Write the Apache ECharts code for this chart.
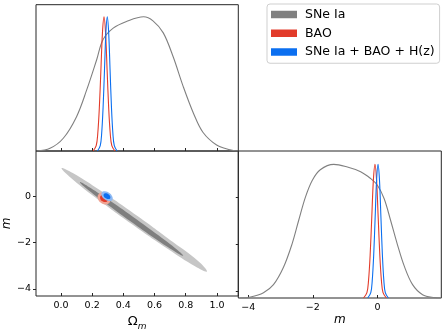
<!DOCTYPE html>
<html><head><meta charset="utf-8">
<script src="https://cdn.jsdelivr.net/npm/echarts@6/dist/echarts.min.js"></script>
<style>html,body{margin:0;padding:0;background:#fff}#c{width:446px;height:332px}</style>
</head><body><div id="c"></div>
<script>
// ---- data ----
const seriesNames = ['SNe Ia', 'BAO', 'SNe Ia + BAO + H(z)'];
const omTicks = [0.0, 0.2, 0.4, 0.6, 0.8, 1.0];
const mTicks = [-4, -2, 0];
// 1D marginals of Omega_m (normalised density)
const snOm = [[-0.156,0],[-0.07,0.02],[0.015,0.095],[0.10,0.256],[0.165,0.455],[0.229,0.68],[0.27,0.83],[0.335,0.915],[0.42,0.965],[0.53,1.0],[0.59,0.97],[0.656,0.88],[0.72,0.70],[0.784,0.48],[0.85,0.28],[0.91,0.14],[0.998,0.045],[1.083,0.01],[1.137,0]];
const baoOm = [[0.206,0],[0.226,0.04],[0.236,0.13],[0.246,0.32],[0.256,0.6],[0.266,0.88],[0.276,1],[0.286,0.88],[0.296,0.6],[0.306,0.32],[0.316,0.13],[0.326,0.04],[0.346,0]];
const allOm = [[0.234,0],[0.252,0.04],[0.261,0.13],[0.27,0.32],[0.279,0.6],[0.288,0.88],[0.297,1],[0.306,0.88],[0.315,0.6],[0.324,0.32],[0.333,0.13],[0.342,0.04],[0.36,0]];
// 1D marginals of m
const snM = [[-4.26,0],[-3.93,0.008],[-3.53,0.04],[-3.22,0.10],[-2.91,0.23],[-2.65,0.40],[-2.44,0.58],[-2.23,0.755],[-2.02,0.88],[-1.77,0.96],[-1.35,1.0],[-0.93,0.98],[-0.52,0.945],[-0.21,0.894],[0,0.844],[0.21,0.743],[0.41,0.58],[0.62,0.40],[0.83,0.24],[1.09,0.10],[1.40,0.025],[1.76,0.003],[1.98,0]];
const baoM = [[-0.43,0],[-0.325,0.04],[-0.275,0.13],[-0.225,0.32],[-0.175,0.6],[-0.125,0.88],[-0.075,1],[-0.025,0.88],[0.025,0.6],[0.075,0.32],[0.125,0.13],[0.175,0.04],[0.28,0]];
const allM = [[-0.3,0],[-0.205,0.04],[-0.16,0.13],[-0.115,0.32],[-0.07,0.6],[-0.025,0.88],[0.02,1],[0.065,0.88],[0.11,0.6],[0.155,0.32],[0.2,0.13],[0.245,0.04],[0.34,0]];
// 2D contours (Omega_m, m) : outer = 95%, inner = 68%
const snOuter = [[0.936,-3.244],[0.862,-3.030],[0.686,-2.269],[0.451,-1.171],[0.221,-0.034],[0.057,0.855],[0.004,1.241],[0.076,1.026],[0.253,0.265],[0.488,-0.829],[0.718,-1.970],[0.881,-2.799]];
const snInner = [[0.784,-2.564],[0.735,-2.397],[0.610,-1.846],[0.443,-1.056],[0.279,-0.244],[0.161,0.367],[0.122,0.628],[0.171,0.453],[0.296,-0.094],[0.463,-0.880],[0.627,-1.688],[0.745,-2.303]];
const baoOuter = [[0.312,-0.256],[0.287,-0.338],[0.256,-0.270],[0.237,-0.094],[0.240,0.094],[0.265,0.175],[0.297,0.107],[0.316,-0.073]];
const baoInner = [[0.298,-0.184],[0.283,-0.234],[0.264,-0.193],[0.252,-0.086],[0.254,0.024],[0.269,0.074],[0.288,0.033],[0.300,-0.074]];
const allOuter = [[0.329,-0.142],[0.308,-0.192],[0.280,-0.118],[0.261,0.038],[0.262,0.182],[0.282,0.232],[0.310,0.158],[0.329,0.003]];
const allInner = [[0.315,-0.077],[0.303,-0.107],[0.286,-0.063],[0.274,0.031],[0.275,0.117],[0.287,0.147],[0.304,0.103],[0.316,0.010]];
const rightPanelTicks = [0.051, 0.403, 0.753];

// ---- styles ----
const FONT = 'DejaVu Sans';
const GRAY = '#808080', RED = '#e23b2a', BLUE = '#0b6ff0';
const AX = '#262626';
const OM_RANGE = [-0.16, 1.137];
const M_RANGE = [-4.31, 1.98];
const minus = v => (v < 0 ? '\u2212' + Math.abs(v) : String(v));
const noLine = { show: false, onZero: false };

function line1D(name, data, color, xi, yi) {
  return { type: 'line', name, data, xAxisIndex: xi, yAxisIndex: yi, smooth: 0.35,
    symbol: 'none', lineStyle: { color, width: 1.1 }, itemStyle: { color }, z: 3, silent: true };
}
function contour(name, pts, color, z) {
  return { type: 'custom', name, xAxisIndex: 1, yAxisIndex: 1, data: pts, z, silent: true,
    itemStyle: { color },
    renderItem: function (params, api) {
      if (params.dataIndex !== 0) return null;
      const p = pts.map(d => api.coord(d));
      return { type: 'polygon', shape: { points: p, smooth: 0.45 }, style: { fill: color, stroke: null } };
    } };
}

const chart = echarts.init(document.getElementById('c'), null, { renderer: 'canvas' });
chart.setOption({
  animation: false,
  backgroundColor: '#fff',
  textStyle: { fontFamily: FONT },
  grid: [
    { left: 36, top: 4.7, width: 202.3, height: 146.3, show: true, borderColor: AX, borderWidth: 1, backgroundColor: 'transparent' },
    { left: 36, top: 151, width: 202.3, height: 147, show: true, borderColor: AX, borderWidth: 1, backgroundColor: 'transparent' },
    { left: 238.3, top: 151, width: 203, height: 147, show: true, borderColor: AX, borderWidth: 1, backgroundColor: 'transparent' }
  ],
  xAxis: [
    { type: 'value', gridIndex: 0, min: OM_RANGE[0], max: OM_RANGE[1], axisLine: noLine,
      axisTick: { show: true, inside: true, length: 3, customValues: omTicks, lineStyle: { color: AX } },
      axisLabel: { show: false }, splitLine: { show: false } },
    { type: 'value', gridIndex: 1, min: OM_RANGE[0], max: OM_RANGE[1], axisLine: noLine,
      axisTick: { show: true, inside: true, length: 3, customValues: omTicks, lineStyle: { color: AX } },
      axisLabel: { show: true, customValues: omTicks, formatter: v => v.toFixed(1), color: '#000', fontSize: 9.5, fontFamily: FONT, margin: 5 },
      splitLine: { show: false },
      name: '{o|\u03A9}{s|m}', nameLocation: 'middle', nameGap: 15,
      nameTextStyle: { rich: { o: { fontSize: 13, fontFamily: FONT, color: '#000', verticalAlign: 'bottom', lineHeight: 17 },
                               s: { fontSize: 9, fontFamily: FONT, fontStyle: 'italic', color: '#000', verticalAlign: 'bottom', lineHeight: 17, padding: [0,0,-3,0] } } } },
    { type: 'value', gridIndex: 2, min: M_RANGE[0], max: M_RANGE[1], axisLine: noLine,
      axisTick: { show: true, inside: true, length: 3, customValues: mTicks, lineStyle: { color: AX } },
      axisLabel: { show: true, customValues: mTicks, formatter: minus, color: '#000', fontSize: 9.5, fontFamily: FONT, margin: 5 },
      splitLine: { show: false },
      name: 'm', nameLocation: 'middle', nameGap: 15,
      nameTextStyle: { fontSize: 12, fontStyle: 'italic', fontFamily: FONT, color: '#000' } }
  ],
  yAxis: [
    { type: 'value', gridIndex: 0, min: 0, max: 1.09, axisLine: noLine, axisTick: { show: false },
      axisLabel: { show: false }, splitLine: { show: false } },
    { type: 'value', gridIndex: 1, min: M_RANGE[0], max: M_RANGE[1], axisLine: noLine,
      axisTick: { show: true, inside: false, length: 3, customValues: mTicks, lineStyle: { color: AX } },
      axisLabel: { show: true, customValues: mTicks, formatter: minus, color: '#000', fontSize: 9.5, fontFamily: FONT, margin: 5 },
      splitLine: { show: false },
      name: 'm', nameLocation: 'middle', nameGap: 20, nameRotate: 90,
      nameTextStyle: { fontSize: 12, fontStyle: 'italic', fontFamily: FONT, color: '#000' } },
    { type: 'value', gridIndex: 2, min: 0, max: 1.1, axisLine: noLine,
      axisTick: { show: true, inside: false, length: 2.5, customValues: rightPanelTicks, lineStyle: { color: AX } },
      axisLabel: { show: false }, splitLine: { show: false } }
  ],
  legend: {
    orient: 'vertical', left: 267, top: 4, padding: [3.25, 5, 4, 4], itemGap: 4.25,
    itemWidth: 26, itemHeight: 7.5, icon: 'rect',
    borderColor: '#cfcfcf', borderWidth: 1, borderRadius: 3, backgroundColor: '#fff',
    textStyle: { fontSize: 12.5, fontFamily: FONT, color: '#000', lineHeight: 14.5, padding: [0, 0, 0, 3] },
    data: [
      { name: seriesNames[0], itemStyle: { color: GRAY } },
      { name: seriesNames[1], itemStyle: { color: RED } },
      { name: seriesNames[2], itemStyle: { color: BLUE } }
    ],
    selectedMode: false
  },
  series: [
    line1D(seriesNames[0], snOm, GRAY, 0, 0),
    line1D(seriesNames[1], baoOm, RED, 0, 0),
    line1D(seriesNames[2], allOm, BLUE, 0, 0),
    line1D(seriesNames[0], snM, GRAY, 2, 2),
    line1D(seriesNames[1], baoM, RED, 2, 2),
    line1D(seriesNames[2], allM, BLUE, 2, 2),
    contour(seriesNames[0], snOuter, '#c6c6c6', 1),
    contour(seriesNames[0], snInner, '#7f7f7f', 2),
    contour(seriesNames[1], baoOuter, '#f0a393', 3),
    contour(seriesNames[1], baoInner, RED, 4),
    contour(seriesNames[2], allOuter, '#8db9f3', 5),
    contour(seriesNames[2], allInner, BLUE, 6)
  ]
});
</script></body></html>
